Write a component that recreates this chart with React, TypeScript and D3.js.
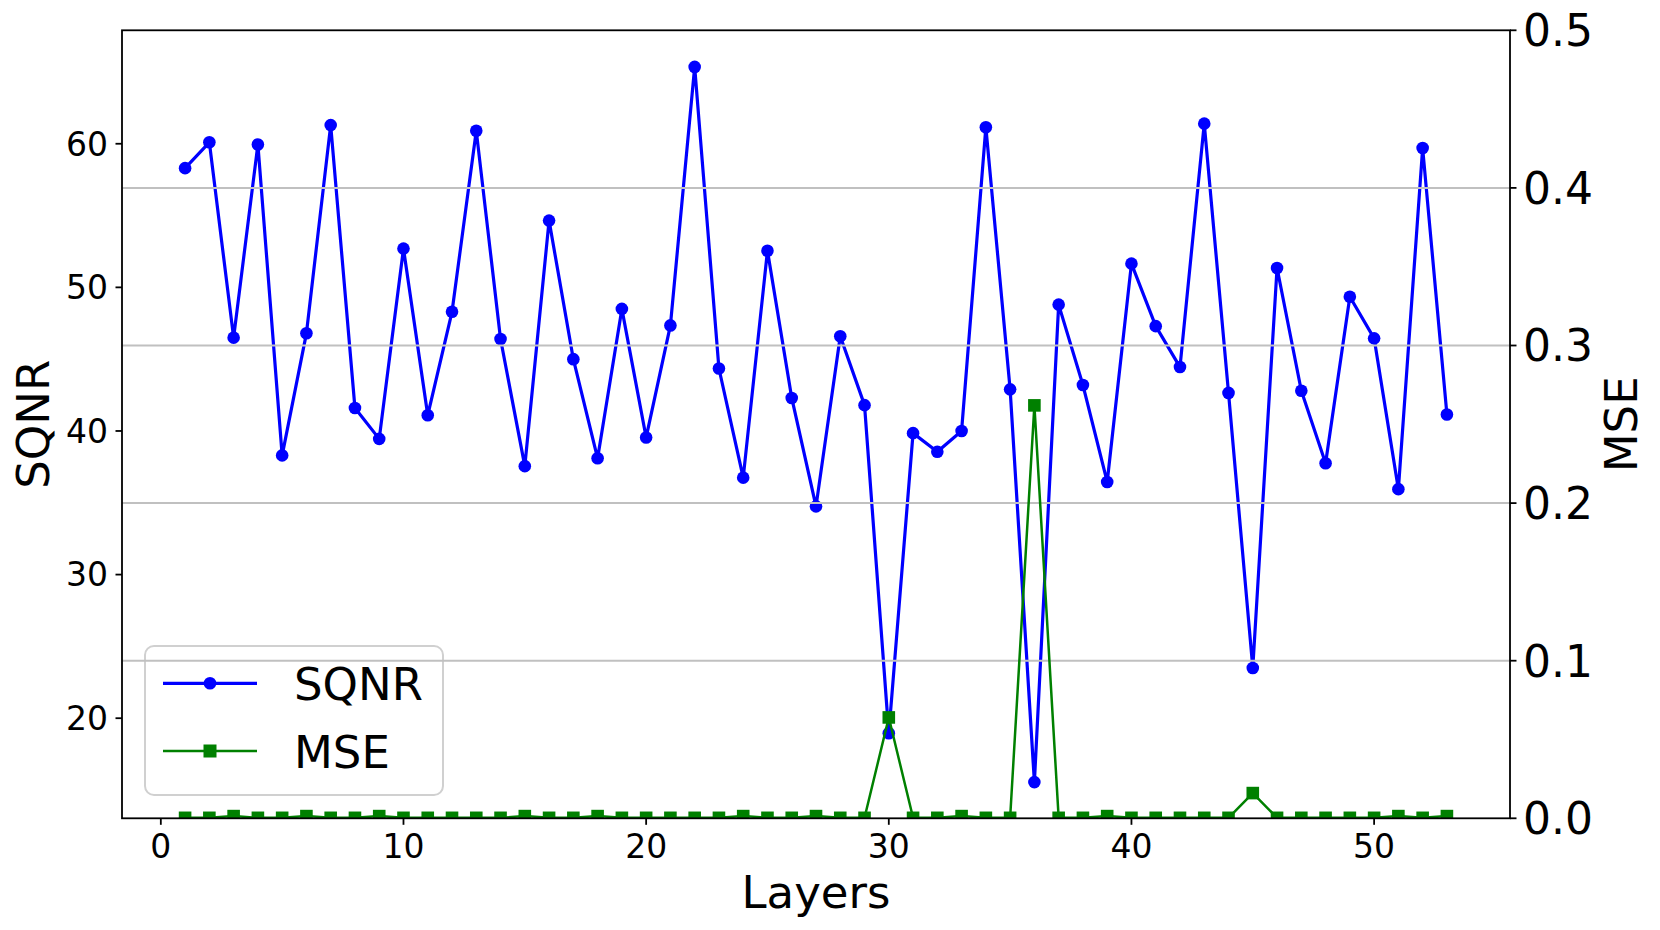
import React from 'react';
import * as d3 from 'd3';

const W = 1660;
const H = 930;

// layer index on the x axis
const layers = [
  1, 2, 3, 4, 5, 6, 7, 8, 9, 10, 11, 12, 13, 14, 15, 16, 17, 18, 19, 20,
  21, 22, 23, 24, 25, 26, 27, 28, 29, 30, 31, 32, 33, 34, 35, 36, 37, 38, 39, 40,
  41, 42, 43, 44, 45, 46, 47, 48, 49, 50, 51, 52, 53,
];

const sqnr = [
  58.3, 60.1, 46.5, 59.95, 38.3, 46.8, 61.3, 41.6, 39.45, 52.7,
  41.1, 48.3, 60.9, 46.4, 37.55, 54.65, 45.0, 38.1, 48.5, 39.55,
  47.35, 65.35, 44.35, 36.75, 52.55, 42.3, 34.75, 46.6, 41.8, 18.95,
  39.85, 38.55, 40.0, 61.15, 42.9, 15.55, 48.8, 43.2, 36.45, 51.65,
  47.3, 44.45, 61.4, 42.65, 23.5, 51.35, 42.8, 37.75, 49.35, 46.45,
  35.95, 59.7, 41.15,
];

const mse = [
  0.0003, 0.0003, 0.0014, 0.0003, 0.0003, 0.0014, 0.0003, 0.0003, 0.0014, 0.0003,
  0.0003, 0.0003, 0.0003, 0.0003, 0.0014, 0.0003, 0.0003, 0.0014, 0.0003, 0.0003,
  0.0003, 0.0003, 0.0003, 0.0014, 0.0003, 0.0003, 0.0014, 0.0003, 0.0003, 0.064,
  0.0003, 0.0003, 0.0014, 0.0003, 0.0003, 0.262, 0.0003, 0.0003, 0.0014, 0.0003,
  0.0003, 0.0003, 0.0003, 0.0003, 0.016, 0.0003, 0.0003, 0.0003, 0.0003, 0.0003,
  0.0014, 0.0003, 0.0014,
];

const xTicks = [0, 10, 20, 30, 40, 50];
const leftTicks = [20, 30, 40, 50, 60];
const rightTicks = [0, 0.1, 0.2, 0.3, 0.4, 0.5];

const FONT = '"DejaVu Sans", sans-serif';
const BLUE = '#0000ff';
const GREEN = '#008000';

const plot = { left: 122, top: 30.3, right: 1510, bottom: 818.3 };

export default function App() {
  const x = d3.scaleLinear().domain([-1.6, 55.6]).range([plot.left, plot.right]);
  const y1 = d3.scaleLinear().domain([13.03, 67.9]).range([plot.bottom, plot.top]);
  const y2 = d3.scaleLinear().domain([0, 0.5]).range([plot.bottom, plot.top]);

  const sqnrLine = d3.line<number>()
    .x((_, i) => x(layers[i]))
    .y(d => y1(d))(sqnr);
  const mseLine = d3.line<number>()
    .x((_, i) => x(layers[i]))
    .y(d => y2(d))(mse);

  const pw = plot.right - plot.left;
  const ph = plot.bottom - plot.top;
  const midY = (plot.top + plot.bottom) / 2;

  return (
    <svg width={W} height={H} style={{ position: 'absolute', left: 0, top: 0, background: '#fff' }}
      fontFamily={FONT}>
      <defs>
        <clipPath id="plotclip">
          <rect x={plot.left} y={plot.top} width={pw} height={ph} />
        </clipPath>
      </defs>
      <rect x={0} y={0} width={W} height={H} fill="#fff" />

      {/* SQNR series */}
      <g clipPath="url(#plotclip)">
        <path d={sqnrLine || ''} fill="none" stroke={BLUE} strokeWidth={3.2} strokeLinejoin="round" />
        {sqnr.map((v, i) => (
          <circle key={i} cx={x(layers[i])} cy={y1(v)} r={6.3} fill={BLUE} />
        ))}
      </g>

      {/* legend */}
      <g>
        <rect x={145} y={646} width={298} height={149} rx={9} fill="#fff" fillOpacity={0.8}
          stroke="#d0d0d0" strokeWidth={2} />
        <line x1={163} x2={257} y1={683.3} y2={683.3} stroke={BLUE} strokeWidth={3.2} />
        <circle cx={210} cy={683.3} r={6.3} fill={BLUE} />
        <text x={294} y={700} fontSize={45}>SQNR</text>
        <line x1={163} x2={257} y1={751} y2={751} stroke={GREEN} strokeWidth={2.5} />
        <rect x={203.5} y={744.5} width={13} height={13} fill={GREEN} />
        <text x={294} y={767.5} fontSize={45}>MSE</text>
      </g>

      {/* grid from right axis */}
      {rightTicks.slice(1, -1).map(t => (
        <line key={t} x1={plot.left} x2={plot.right} y1={y2(t)} y2={y2(t)} stroke="#c0c0c0" strokeWidth={2} />
      ))}

      {/* MSE series */}
      <g clipPath="url(#plotclip)">
        <path d={mseLine || ''} fill="none" stroke={GREEN} strokeWidth={2.5} strokeLinejoin="round" />
        {mse.map((v, i) => (
          <rect key={i} x={x(layers[i]) - 6.3} y={y2(v) - 6.3} width={12.6} height={12.6} fill={GREEN} />
        ))}
      </g>

      {/* spines */}
      <rect x={plot.left} y={plot.top} width={pw} height={ph} fill="none" stroke="#000" strokeWidth={1.8} />

      {/* x axis */}
      {xTicks.map(t => (
        <g key={t} transform={`translate(${x(t)},${plot.bottom})`}>
          <line y1={0} y2={6.5} stroke="#000" strokeWidth={1.8} />
          <text y={40} textAnchor="middle" fontSize={33}>{t}</text>
        </g>
      ))}
      <text x={(plot.left + plot.right) / 2} y={908} textAnchor="middle" fontSize={45}>Layers</text>

      {/* left axis */}
      {leftTicks.map(t => (
        <g key={t} transform={`translate(${plot.left},${y1(t)})`}>
          <line x1={0} x2={-6.5} stroke="#000" strokeWidth={1.8} />
          <text x={-14} dy="0.36em" textAnchor="end" fontSize={33}>{t}</text>
        </g>
      ))}
      <text transform={`translate(49,${midY}) rotate(-90)`} textAnchor="middle" fontSize={45}>SQNR</text>

      {/* right axis */}
      {rightTicks.map(t => (
        <g key={t} transform={`translate(${plot.right},${y2(t)})`}>
          <line x1={0} x2={6.5} stroke="#000" strokeWidth={1.8} />
          <text x={13} dy="0.36em" textAnchor="start" fontSize={44}>{t.toFixed(1)}</text>
        </g>
      ))}
      <text transform={`translate(1637,${midY}) rotate(-90)`} textAnchor="middle" fontSize={45}>MSE</text>
    </svg>
  );
}
